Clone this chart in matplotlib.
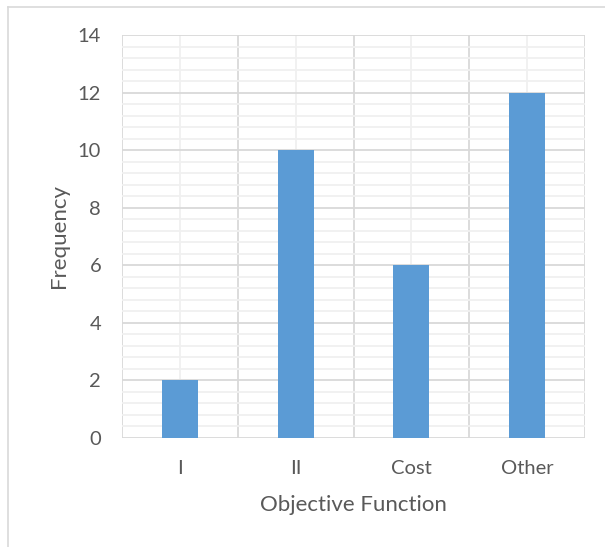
import matplotlib.pyplot as plt
from matplotlib.lines import Line2D
from matplotlib.ticker import MultipleLocator

categories = ["I", "II", "Cost", "Other"]
frequency = [2, 10, 6, 12]

plt.rcParams['font.family'] = ['Lato', 'DejaVu Sans']
text_color = "#595959"

fig = plt.figure(figsize=(6.05, 5.47), dpi=100)
ax = fig.add_axes([0.2017, 0.1993, 0.7653, 0.7367])

centers = list(range(len(categories)))
ax.bar(centers, frequency, width=0.31, color="#5B9BD5", zorder=3)

ax.set_xlim(-0.5, len(categories) - 0.5)
ax.set_ylim(0, 14)

# category boundaries as major ticks, centers as minor ticks with the labels
ax.set_xticks([c - 0.5 for c in centers] + [len(categories) - 0.5])
ax.set_xticklabels([])
ax.set_xticks(centers, categories, minor=True)
ax.yaxis.set_major_locator(MultipleLocator(2))
ax.yaxis.set_minor_locator(MultipleLocator(0.4))

ax.grid(which="major", color="#D9D9D9", linewidth=1.3, zorder=0)
ax.grid(which="minor", color="#F0F0F0", linewidth=1.3, zorder=0)
ax.set_axisbelow(True)

for s in ax.spines.values():
    s.set_visible(False)

ax.tick_params(axis="both", which="both", length=0, colors=text_color, labelsize=14.5)
ax.tick_params(axis="x", which="minor", pad=16)
ax.tick_params(axis="y", which="major", pad=15)

ax.set_xlabel("Objective Function", fontsize=16, color=text_color, labelpad=13)
ax.set_ylabel("Frequency", fontsize=16, color=text_color, labelpad=6)

# chart area border (left and top edges)
fig.add_artist(Line2D([8 / 605, 8 / 605], [0, 1 - 7 / 547], color="#D9D9D9", lw=1.2))
fig.add_artist(Line2D([8 / 605, 1], [1 - 7 / 547, 1 - 7 / 547], color="#D9D9D9", lw=1.2))

fig.savefig("out.png", dpi=100)
